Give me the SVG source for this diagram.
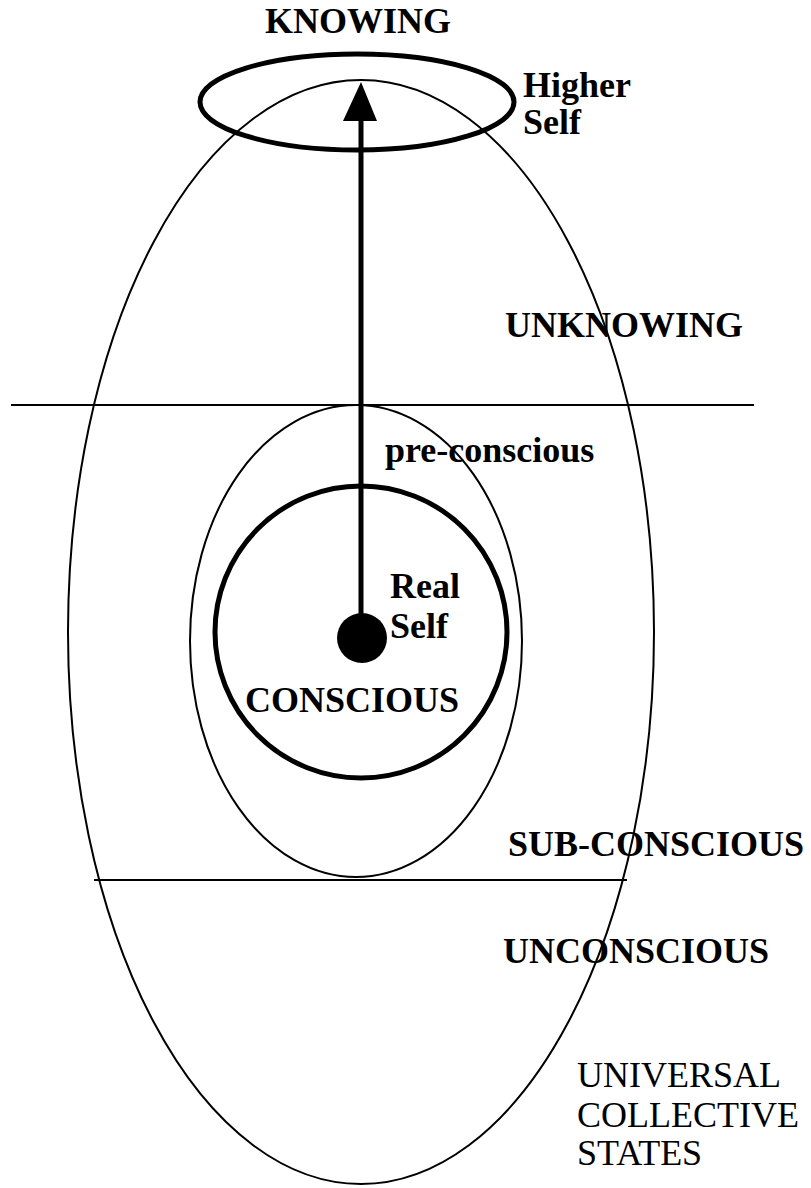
<svg xmlns="http://www.w3.org/2000/svg" width="811" height="1188" viewBox="0 0 811 1188">
<style>
.thin{fill:none;stroke:#000;stroke-width:2}
.thick{fill:none;stroke:#000;stroke-width:5}
.b{font-family:"Liberation Serif","Times New Roman",serif;font-weight:bold;font-size:36px;fill:#000}
.r{font-family:"Liberation Serif","Times New Roman",serif;font-size:36px;fill:#000}
</style>
<rect width="811" height="1188" fill="#fff"/>
<g id="outer-ellipse"><ellipse class="thin" cx="361" cy="632" rx="293" ry="552"/></g>
<g id="divider-lines">
<line class="thin" x1="11" y1="405" x2="754" y2="405"/>
<line class="thin" x1="94" y1="880" x2="627" y2="880"/>
</g>
<g id="preconscious-ellipse"><ellipse class="thin" cx="356" cy="641" rx="166" ry="236"/></g>
<g id="conscious-circle"><circle class="thick" cx="361" cy="632" r="146"/></g>
<g id="higher-self-ring"><ellipse class="thick" cx="357" cy="102" rx="157" ry="48"/></g>
<g id="real-self-dot"><circle cx="362" cy="638" r="25" fill="#000"/></g>
<g id="connectors">
<line x1="361" y1="630" x2="361" y2="118" stroke="#000" stroke-width="5"/>
<polygon points="361,82 343,121 377,121" fill="#000"/>
</g>
<g id="labels">
<text class="b" x="265" y="33">KNOWING</text>
<text class="b" x="523" y="97">Higher</text>
<text class="b" x="523" y="134">Self</text>
<text class="b" x="505" y="337">UNKNOWING</text>
<text class="b" x="385" y="462">pre-conscious</text>
<text class="b" x="390" y="598">Real</text>
<text class="b" x="390" y="638">Self</text>
<text class="b" x="245" y="712">CONSCIOUS</text>
<text class="b" x="508" y="856">SUB-CONSCIOUS</text>
<text class="b" x="503" y="963">UNCONSCIOUS</text>
<text class="r" x="577" y="1087">UNIVERSAL</text>
<text class="r" x="577" y="1127">COLLECTIVE</text>
<text class="r" x="577" y="1165">STATES</text>
</g>
</svg>
